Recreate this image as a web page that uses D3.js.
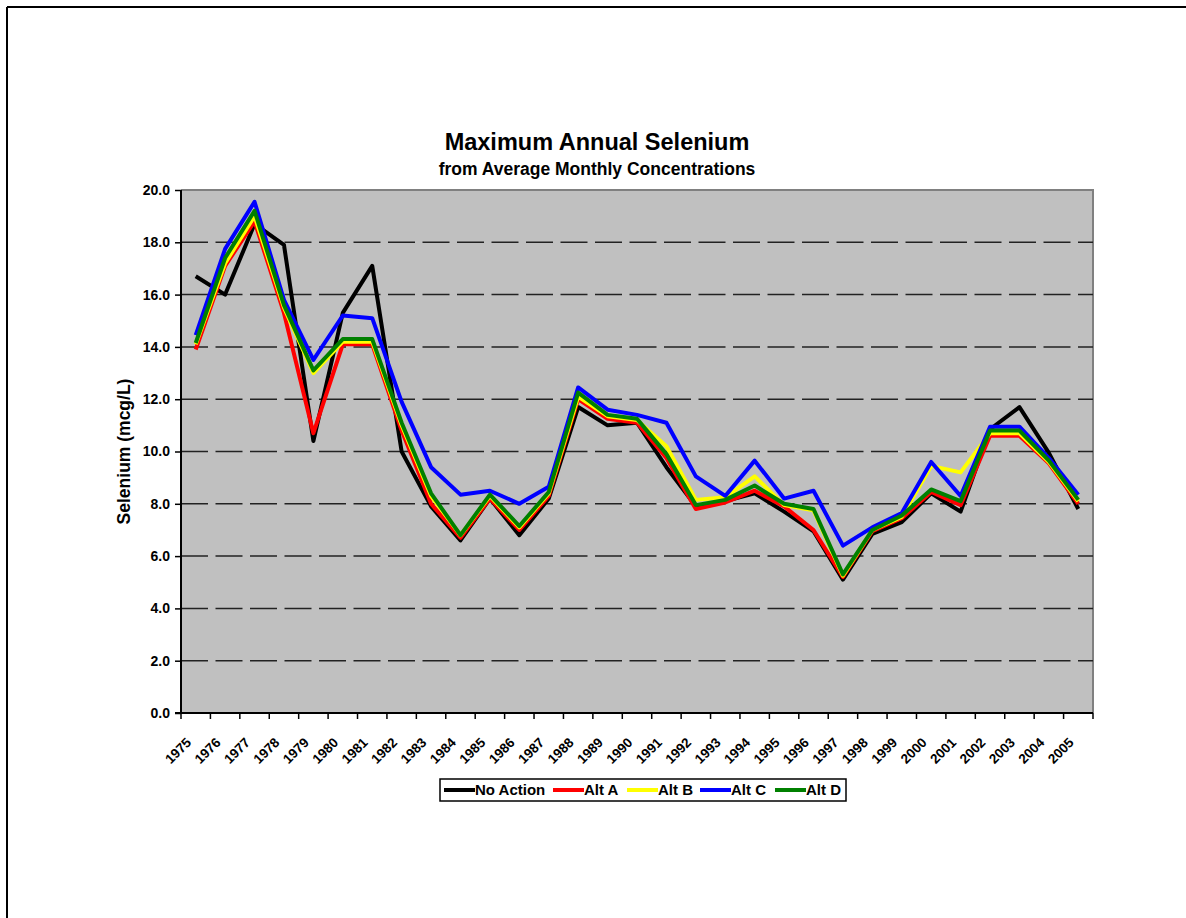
<!DOCTYPE html>
<html>
<head>
<meta charset="utf-8">
<script src="https://cdn.jsdelivr.net/npm/d3@7"></script>
<style>
body{margin:0;background:#fff;}
svg{display:block;font-family:"Liberation Sans",Arial,sans-serif;}
</style>
</head>
<body>
<svg id="chart" width="1186" height="918"></svg>
<script>
let years=d3.range(1975,2006).map(String)
let yTicks=[0,2,4,6,8,10,12,14,16,18,20]
let seriesNames=["No Action","Alt A","Alt B","Alt C","Alt D"]
let seriesColors=["#000000","#ff0000","#ffff00","#0000ff","#008000"]

let noAction=[16.7,16.0,18.7,17.9,10.4,15.3,17.1,10.0,7.9,6.6,8.2,6.8,8.2,11.7,11.0,11.1,9.4,7.9,8.1,8.4,7.7,6.95,5.1,6.85,7.3,8.4,7.7,10.85,11.7,9.95,7.8]
let altA=[13.9,17.1,18.8,15.3,10.7,14.1,14.1,10.8,8.0,6.7,8.2,7.0,8.3,12.0,11.25,11.1,9.75,7.8,8.05,8.5,7.9,7.0,5.2,6.95,7.45,8.45,7.95,10.6,10.6,9.55,8.0]
let altB=[14.1,17.2,19.0,15.5,13.0,14.2,14.2,11.0,8.3,6.8,8.3,7.1,8.4,12.1,11.35,11.2,10.2,8.15,8.25,9.05,7.95,7.75,5.25,7.0,7.5,9.45,9.2,10.7,10.7,9.6,8.1]
let altC=[14.45,17.75,19.55,15.8,13.5,15.2,15.1,11.9,9.4,8.35,8.5,8.0,8.65,12.45,11.6,11.4,11.1,9.05,8.3,9.65,8.2,8.5,6.4,7.1,7.65,9.6,8.3,10.95,10.95,9.75,8.35]
let altD=[14.15,17.4,19.2,15.6,13.1,14.3,14.3,11.1,8.4,6.8,8.35,7.15,8.45,12.25,11.4,11.25,9.9,7.95,8.15,8.7,8.0,7.8,5.3,7.0,7.55,8.55,8.1,10.8,10.8,9.65,8.15]
let seriesValues=[noAction,altA,altB,altC,altD]

let svg=d3.select("#chart")
let pLeft=181,pRight=1093,pTop=190,pBottom=713

// page frame
svg.append("line").attr("x1",7).attr("y1",7).attr("x2",1186).attr("y2",7).attr("stroke","#000").attr("stroke-width",2)
svg.append("line").attr("x1",7).attr("y1",7).attr("x2",7).attr("y2",918).attr("stroke","#000").attr("stroke-width",2)

let x=d3.scaleBand().domain(years).range([pLeft,pRight]).padding(0)
let y=d3.scaleLinear().domain([0,20]).range([pBottom,pTop])

// plot background
svg.append("rect").attr("x",pLeft).attr("y",pTop).attr("width",pRight-pLeft).attr("height",pBottom-pTop).attr("fill","#c0c0c0")
svg.append("path").attr("d",`M${pLeft},${pTop}H${pRight}V${pBottom}`).attr("fill","none").attr("stroke","#808080").attr("stroke-width",2)

// gridlines
svg.selectAll(".grid").data(yTicks.filter(d=>d>0&&d<20)).enter().append("line")
	.attr("x1",pLeft).attr("x2",pRight)
	.attr("y1",d=>y(d)).attr("y2",d=>y(d))
	.attr("stroke","#222").attr("stroke-width",1.5)
	.attr("stroke-dasharray","27,7.5")

// y axis
let yAxis=d3.axisLeft(y).tickValues(yTicks).tickFormat(d3.format(".1f")).tickSize(6).tickPadding(5)
let gy=svg.append("g").attr("transform",`translate(${pLeft},0)`).call(yAxis)
gy.select(".domain").remove()
gy.selectAll(".tick line").attr("stroke","#000").attr("stroke-width",1.5)
gy.selectAll("text").attr("font-size",14).attr("font-weight","bold").attr("fill","#000").attr("font-family","Liberation Sans, Arial, sans-serif")
svg.append("line").attr("x1",pLeft).attr("x2",pLeft).attr("y1",pTop).attr("y2",pBottom+1).attr("stroke","#000").attr("stroke-width",2)

// x axis: ticks at category boundaries
let bounds=years.map(d=>x(d)).concat([pRight])
svg.selectAll(".xtick").data(bounds).enter().append("line")
	.attr("x1",d=>d).attr("x2",d=>d).attr("y1",pBottom).attr("y2",pBottom+6)
	.attr("stroke","#000").attr("stroke-width",1.5)
svg.append("line").attr("x1",pLeft-6).attr("x2",pRight).attr("y1",pBottom).attr("y2",pBottom).attr("stroke","#000").attr("stroke-width",2)
svg.selectAll(".xlab").data(years).enter().append("text")
	.attr("transform",d=>`translate(${x(d)+x.bandwidth()/2-7},${pBottom+27}) rotate(-45)`)
	.attr("text-anchor","end").attr("dy","0.35em")
	.attr("font-size",13.5).attr("font-weight","bold")
	.text(d=>d)

// lines
let line=d3.line().x((d,i)=>x(years[i])+x.bandwidth()/2).y(d=>y(d))
seriesValues.forEach((vals,k)=>{
	svg.append("path").datum(vals)
		.attr("d",line)
		.attr("fill","none")
		.attr("stroke",seriesColors[k])
		.attr("stroke-width",4)
		.attr("stroke-linejoin","round")
})

// titles
svg.append("text").attr("x",597).attr("y",150).attr("text-anchor","middle")
	.attr("font-size",23.5).attr("font-weight","bold").text("Maximum Annual Selenium")
svg.append("text").attr("x",597).attr("y",175).attr("text-anchor","middle")
	.attr("font-size",17.5).attr("font-weight","bold").text("from Average Monthly Concentrations")
svg.append("text").attr("transform",`translate(130,${(pTop+pBottom)/2}) rotate(-90)`)
	.attr("text-anchor","middle").attr("font-size",17.5).attr("font-weight","bold").text("Selenium (mcg/L)")

// legend
let legend=svg.append("g")
legend.append("rect").attr("x",440).attr("y",779).attr("width",406).attr("height",22)
	.attr("fill","#fff").attr("stroke","#000").attr("stroke-width",1.5)
let legX=[444,553,627,700,775]
seriesNames.forEach((name,k)=>{
	legend.append("line").attr("x1",legX[k]).attr("x2",legX[k]+31).attr("y1",790).attr("y2",790)
		.attr("stroke",seriesColors[k]).attr("stroke-width",4)
	legend.append("text").attr("x",legX[k]+31).attr("y",790).attr("dy","0.35em")
		.attr("font-size",15).attr("font-weight","bold").text(name)
})
</script>
</body>
</html>
